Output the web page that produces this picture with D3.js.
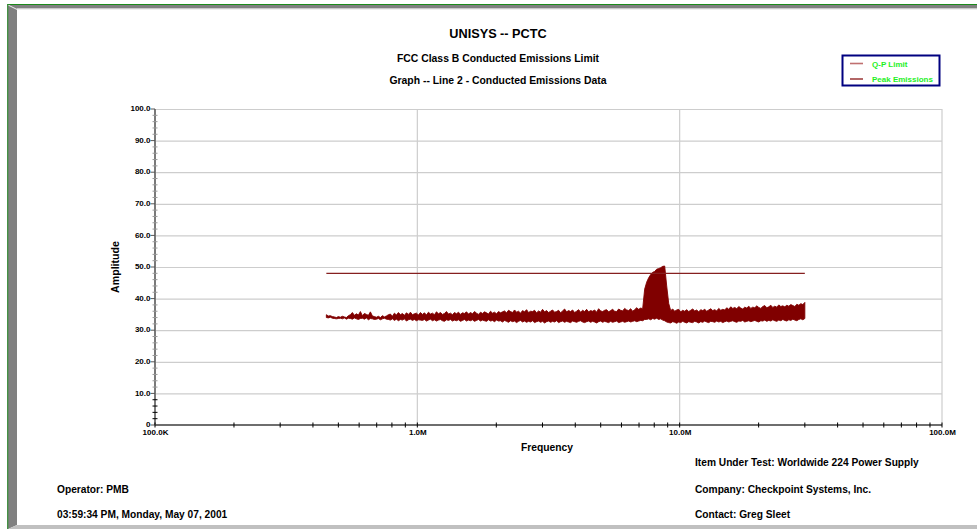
<!DOCTYPE html>
<html><head><meta charset="utf-8">
<script src="https://cdn.jsdelivr.net/npm/d3@7"></script>
<style>
html,body{margin:0;padding:0;background:#fff;}
svg{display:block;font-family:"Liberation Sans",Arial,sans-serif;font-weight:bold;}
</style></head>
<body>
<svg id="c" width="977" height="529"></svg>
<script>
// ---- data ----
const titleText = "UNISYS -- PCTC";
const subtitle1 = "FCC Class B Conducted Emissions Limit";
const subtitle2 = "Graph -- Line 2 - Conducted Emissions Data";
const xTickValues = [0.1, 1, 10, 100];            // MHz
const xTickLabels = ["100.0K", "1.0M", "10.0M", "100.0M"];
const yTickValues = [0, 10, 20, 30, 40, 50, 60, 70, 80, 90, 100];
const yTickLabels = ["0", "10.0", "20.0", "30.0", "40.0", "50.0", "60.0", "70.0", "80.0", "90.0", "100.0"];
const seriesNames = ["Q-P Limit", "Peak Emissions"];
const qpLimitFreq = [0.45, 30];   // MHz
const qpLimitDb = [48.0, 48.0];
const sweepStartMHz = 0.45, sweepStopMHz = 30;
// peak emissions, min / max held in each sweep bin
const peakLo = [
34.0,33.9,34.1,33.8,33.7,33.6,33.7,33.8,33.6,33.9,
33.5,33.8,33.7,33.5,33.9,33.6,33.4,33.7,33.8,33.5,
33.9,33.3,33.7,33.6,33.4,33.5,33.7,33.3,33.6,33.8,
33.5,33.4,33.2,33.6,33.1,33.5,33.0,33.4,33.2,33.6,
32.9,33.3,33.5,33.1,33.4,33.0,33.3,33.2,33.1,33.4,
32.9,33.2,33.5,33.0,33.3,32.9,33.2,33.4,33.0,32.8,
33.3,33.1,33.4,32.9,33.2,33.0,33.3,32.8,33.1,33.4,
32.9,33.2,33.0,33.3,32.8,33.1,33.4,32.9,33.2,33.0,
32.8,33.3,32.9,33.1,32.7,33.2,32.9,33.0,32.6,33.1,
32.8,32.5,33.0,32.7,32.9,32.4,32.8,33.1,32.6,32.9,
32.5,32.8,32.6,33.0,32.4,32.7,32.9,32.5,32.8,32.3,
32.7,32.9,32.5,32.8,32.6,33.0,32.4,32.7,32.9,32.5,
32.8,32.6,32.4,32.9,32.7,32.5,32.8,33.0,32.6,32.4,
32.7,32.9,32.5,32.8,32.6,32.3,32.7,32.9,32.5,32.8,
32.6,32.4,32.8,32.5,32.7,32.9,32.4,32.6,32.8,32.5,
32.7,32.9,32.6,32.8,33.0,32.7,32.9,33.1,33.0,33.4,
33.4,33.6,33.3,33.7,33.5,33.8,33.4,33.6,33.2,33.0,
32.6,32.4,32.3,32.7,32.5,32.2,32.6,32.4,32.8,32.5,
32.3,32.7,32.5,32.4,32.8,32.6,32.3,32.7,32.5,32.9,
32.6,32.4,32.8,32.7,32.5,32.9,32.6,32.8,32.4,32.7,
32.9,32.6,32.8,33.0,32.7,32.5,32.9,32.8,33.1,32.6,
32.8,33.0,32.7,32.9,33.1,32.8,32.6,33.0,32.9,33.2,
32.8,33.1,32.9,33.3,33.0,32.8,33.2,33.0,33.4,33.1,
32.9,33.3,33.1,33.5,33.2,33.0,33.4,33.6,33.3,33.7
];
const peakHi = [
34.9,34.5,34.6,34.3,34.2,34.0,34.3,34.1,34.4,34.2,
34.0,34.6,34.9,35.6,34.7,35.2,34.8,35.9,34.6,35.3,
35.0,34.7,35.8,34.5,34.3,34.1,34.4,34.0,34.6,34.2,
34.5,34.9,35.1,34.4,35.4,34.8,35.6,34.9,35.3,34.7,
35.5,35.0,35.7,34.9,35.2,35.4,34.8,35.6,35.0,35.5,
34.8,35.7,35.1,35.4,34.9,35.8,35.2,35.6,35.0,35.3,
35.9,35.1,35.4,34.9,35.6,35.2,35.7,35.0,35.5,35.3,
35.8,35.1,35.6,35.2,35.9,35.4,35.0,35.7,35.3,35.8,
35.5,35.1,36.0,35.4,35.7,35.2,35.9,35.5,35.8,36.1,
35.5,36.3,35.9,35.6,36.4,35.7,36.0,35.4,36.2,35.8,
36.5,35.6,36.0,35.9,36.3,35.5,36.1,35.7,36.6,35.8,
36.2,35.6,36.0,36.4,35.7,35.9,36.3,35.5,36.1,36.7,
35.8,36.2,35.9,36.4,35.6,36.0,36.5,35.7,36.3,35.9,
36.6,35.8,36.2,36.0,36.4,35.7,36.8,36.1,35.9,36.3,
36.5,35.8,36.2,36.6,36.0,35.9,36.7,36.3,36.1,36.9,
36.4,36.2,36.8,36.0,36.5,37.1,36.6,37.0,36.8,43.0,
45.2,46.6,47.6,48.3,48.6,49.3,49.5,49.8,50.2,50.3,
44.0,38.5,36.2,36.7,36.0,36.4,36.6,35.8,36.3,36.0,
36.5,35.9,36.3,36.7,36.1,36.4,35.8,36.5,36.2,36.6,
36.0,36.4,36.8,36.2,36.5,36.1,36.9,36.3,36.6,36.4,
37.1,36.6,37.4,36.9,37.2,36.8,37.5,37.0,36.7,37.3,
37.0,37.6,36.9,37.3,37.1,37.7,37.2,36.9,37.5,37.8,
37.1,37.4,37.9,37.2,37.6,37.3,38.0,37.5,37.7,37.4,
37.9,37.6,38.1,37.8,37.5,38.2,37.9,38.4,38.1,38.8
];
const operatorText = "Operator: PMB";
const dateText = "03:59:34 PM, Monday, May 07, 2001";
const itemText = "Item Under Test: Worldwide 224 Power Supply";
const companyText = "Company: Checkpoint Systems, Inc.";
const contactText = "Contact: Greg Sleet";

// ---- drawing ----
const svg = d3.select("#c");
const DARK = "#800000";

// frame / bevel
svg.append("polygon").attr("points", "8,5 977,5 977,9 17,9").attr("fill", "#808080");
svg.append("rect").attr("x", 17).attr("y", 8).attr("width", 960).attr("height", 1.3).attr("fill", "#c8c8c8");
svg.append("polygon").attr("points", "8,5 17,9 17,525 8,529").attr("fill", "#808080");
svg.append("polygon").attr("points", "8,529 17,525 977,525 977,529").attr("fill", "#c0c0c0");
svg.append("line").attr("x1", 8).attr("y1", 5).attr("x2", 17).attr("y2", 9.5).attr("stroke", "#e8e8e8").attr("stroke-width", 1);
svg.append("line").attr("x1", 7).attr("y1", 4.5).attr("x2", 977).attr("y2", 4.5).attr("stroke", "#1b8a1b").attr("stroke-width", 1.2);
svg.append("line").attr("x1", 7.7).attr("y1", 4).attr("x2", 7.7).attr("y2", 529).attr("stroke", "#3c8c3c").attr("stroke-width", 1.3);

const x = d3.scaleLog().domain([0.1, 100]).range([155, 942]);
const y = d3.scaleLinear().domain([0, 100]).range([425, 109]);

// gridlines
const grid = svg.append("g");
grid.selectAll("line.h").data(yTickValues.filter(v => v > 0)).join("line")
  .attr("x1", x(0.1)).attr("x2", x(100)).attr("y1", d => y(d) + 0.5).attr("y2", d => y(d) + 0.5)
  .attr("stroke", "#cdcdcd").attr("stroke-width", 1.2);
grid.selectAll("line.v").data(xTickValues.filter(v => v > 0.1)).join("line")
  .attr("x1", d => x(d)).attr("x2", d => x(d)).attr("y1", y(100)).attr("y2", y(0))
  .attr("stroke", "#cdcdcd").attr("stroke-width", 1.2);

// axis lines
svg.append("line").attr("x1", x(0.1)).attr("x2", x(0.1)).attr("y1", y(100)).attr("y2", y(0))
  .attr("stroke", "#7a7a7a").attr("stroke-width", 2);
svg.append("line").attr("x1", x(0.1)).attr("x2", x(100)).attr("y1", y(0)).attr("y2", y(0))
  .attr("stroke", "#6e6e6e").attr("stroke-width", 2);

// y minor ticks every 2 units
const yMinor = d3.range(2, 100, 2).filter(v => v % 10 !== 0);
svg.append("g").selectAll("line").data(yMinor).join("line")
  .attr("x1", x(0.1) - 2.5).attr("x2", x(0.1) + 2.5).attr("y1", d => y(d)).attr("y2", d => y(d))
  .attr("stroke", d => d < 10 ? "#000" : "#9a9a9a").attr("stroke-width", 1);
// y major small ticks
svg.append("g").selectAll("line").data(yTickValues).join("line")
  .attr("x1", x(0.1) - 4.5).attr("x2", x(0.1)).attr("y1", d => y(d)).attr("y2", d => y(d))
  .attr("stroke", "#555").attr("stroke-width", 1);

// x minor ticks (log decades)
const xMinor = [];
[0.1, 1, 10].forEach(dec => { for (let k = 2; k <= 9; k++) xMinor.push(dec * k); });
svg.append("g").selectAll("line").data(xMinor.concat(xTickValues)).join("line")
  .attr("x1", d => x(d)).attr("x2", d => x(d)).attr("y1", y(0) - 2.5).attr("y2", y(0) + 2.5)
  .attr("stroke", "#000").attr("stroke-width", 1);

// tick labels via axes
const yAxis = d3.axisLeft(y).tickValues(yTickValues).tickFormat((d, i) => yTickLabels[i]).tickSize(0).tickPadding(0);
const yg = svg.append("g").attr("transform", `translate(${x(0.1) - 4.5},-0.8)`).call(yAxis);
yg.select(".domain").remove();
yg.selectAll("text").attr("font-size", 8).attr("font-family", "Liberation Sans, Arial, sans-serif").attr("font-weight", "bold").attr("fill", "#000");

const xAxis = d3.axisBottom(x).tickValues(xTickValues).tickFormat((d, i) => xTickLabels[i]).tickSize(0).tickPadding(0);
const xg = svg.append("g").attr("transform", `translate(0,${y(0) + 4.6})`).call(xAxis);
xg.select(".domain").remove();
xg.selectAll("text").attr("font-size", 8).attr("font-family", "Liberation Sans, Arial, sans-serif").attr("font-weight", "bold").attr("fill", "#000");

// peak emissions data
const n = peakLo.length;
const fscale = d3.scaleLog().domain([sweepStartMHz, sweepStopMHz]);
const peakFreq = d3.range(n).map(i => fscale.invert(i / (n - 1)));
const pts = peakFreq.map((f, i) => ({ f, lo: peakLo[i], hi: peakHi[i] }));
const area = d3.area().x(d => x(d.f)).y0(d => y(d.lo)).y1(d => y(d.hi));
svg.append("path").datum(pts).attr("d", area).attr("fill", DARK).attr("stroke", DARK).attr("stroke-width", 0.9);

// Q-P limit
const lim = qpLimitFreq.map((f, i) => ({ f, v: qpLimitDb[i] }));
svg.append("path").datum(lim).attr("d", d3.line().x(d => x(d.f)).y(d => y(d.v)))
  .attr("fill", "none").attr("stroke", "#862020").attr("stroke-width", 1.3);

// titles
const txt = (s, xx, yy, size, anchor) => svg.append("text").text(s).attr("x", xx).attr("y", yy)
  .attr("font-size", size).attr("text-anchor", anchor || "start").attr("fill", "#000");
txt(titleText, 498, 37.5, 12.7, "middle");
txt(subtitle1, 498, 62, 10.4, "middle");
txt(subtitle2, 498, 83.5, 10.4, "middle");
txt("Frequency", 547, 451, 10.3, "middle");
svg.append("text").text("Amplitude").attr("transform", "translate(119,267) rotate(-90)")
  .attr("text-anchor", "middle").attr("font-size", 10.6).attr("fill", "#000");

// footer
txt(itemText, 695, 466, 10.2);
txt(companyText, 695, 493, 10.2);
txt(contactText, 695, 518, 10.2);
txt(operatorText, 57, 493, 10.2);
txt(dateText, 57, 518, 10.2);

// legend
const lg = svg.append("g");
lg.append("rect").attr("x", 842.5).attr("y", 55.5).attr("width", 97).attr("height", 30)
  .attr("fill", "#fff").attr("stroke", "#000080").attr("stroke-width", 2);
const legColors = ["#c07070", DARK];
seriesNames.forEach((name, i) => {
  const yy = 63.5 + i * 15.5;
  lg.append("line").attr("x1", 850).attr("x2", 863).attr("y1", yy).attr("y2", yy)
    .attr("stroke", legColors[i]).attr("stroke-width", i === 0 ? 1.6 : 1.2);
  lg.append("text").text(name).attr("x", 872).attr("y", yy + 3).attr("font-size", 8).attr("fill", "#1ef01e");
});
</script>
</body></html>
